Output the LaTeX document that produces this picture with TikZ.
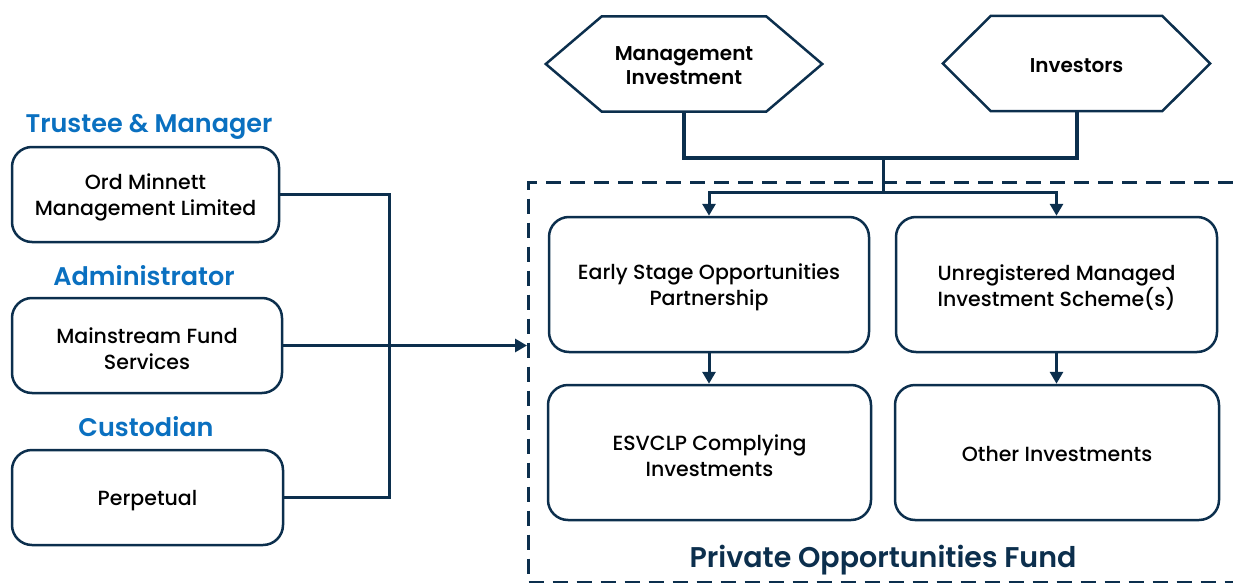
\documentclass[tikz,border=0pt]{standalone}
\usepackage{fontspec}
\setmainfont{Poppins}
\newfontfamily\bodyface{Poppins Medium}
\newfontfamily\headface{Poppins SemiBold}
\usetikzlibrary{arrows.meta,calc}
\definecolor{navy}{HTML}{0C2F4D}
\definecolor{rolecol}{HTML}{0A70C0}
% tall strut on the first line of a box label
\newcommand\firstline{\rule{0pt}{22pt}}
\begin{document}
\begin{tikzpicture}[x=1pt,y=-1pt,
  box/.style={draw=navy, line width=2.5pt, rounded corners=20pt, align=center,
    inner sep=0pt, font=\bodyface\fontsize{20.5}{26}\selectfont},
  rolelabel/.style={text=rolecol, anchor=base, font=\headface\fontsize{25.5}{28}\selectfont},
  hexarea/.style={inner sep=0pt, align=center, font=\headface\fontsize{20}{24}\selectfont},
  hexline/.style={draw=navy, line width=2.5pt, line join=miter},
  feed/.style={draw=navy, line width=4pt},
  flow/.style={draw=navy, line width=3pt, -{Triangle[width=13pt,length=12pt]}},
  link/.style={draw=navy, line width=3pt},
  fundbox/.style={draw=navy, line width=3pt, dash pattern=on 15pt off 9pt},
]
\useasboundingbox (0,0) rectangle (1233,583);

% fund boundary
\node[fundbox, anchor=north west, minimum width=740pt, minimum height=400pt, inner sep=0pt] (fund) at (527,181) {};
\node[text=navy, font=\headface\fontsize{28.5}{30}\selectfont] (fundname) at (883,560) {Private Opportunities Fund};

% investors at the top
\node[hexarea, minimum width=276pt, minimum height=95pt] (mgmt) at (684,64) {\rule{0pt}{17pt}Management\\Investment};
\node[hexarea, minimum width=267pt, minimum height=95pt] (inv) at (1076.5,63.5) {\rule{0pt}{18pt}Investors};
\foreach \h/\d in {mgmt/56, inv/48}{
  \draw[hexline] (\h.west) -- ($(\h.north west)+(\d,0)$) -- ($(\h.north east)+(-\d,0)$)
    -- (\h.east) -- ($(\h.south east)+(-\d,0)$) -- ($(\h.south west)+(\d,0)$) -- cycle;
}

% vehicles inside the fund
\node[box, minimum width=320pt, minimum height=135pt] (esop) at (709,284.5) {\firstline Early Stage Opportunities\\Partnership};
\node[box, minimum width=321pt, minimum height=135pt] (umis) at (1056.5,284.5) {\firstline Unregistered Managed\\Investment Scheme(s)};
\node[box, minimum width=323pt, minimum height=135pt] (esvclp) at (709.5,452.5) {\firstline ESVCLP Complying\\Investments};
\node[box, minimum width=324pt, minimum height=135pt] (other) at (1057,452.5) {\rule{0pt}{18pt}Other Investments};

% service providers
\node[rolelabel] (rtm) at (149,132) {Trustee \& Manager};
\node[box, minimum width=267pt, minimum height=95pt] (ord) at (145.5,194.5) {\firstline Ord Minnett\\Management Limited};
\node[rolelabel] (radm) at (144,285) {Administrator};
\node[box, minimum width=270pt, minimum height=95pt] (mfs) at (147,345.5) {\firstline Mainstream Fund\\Services};
\node[rolelabel] (rcus) at (146,436.5) {Custodian};
\node[box, minimum width=271pt, minimum height=95pt] (perp) at (147.5,497.5) {\rule{0pt}{21pt}Perpetual};

% connectors from the investors
\coordinate (join) at (883,158);
\coordinate (split) at (883,192);
\draw[feed] (mgmt.south) |- (join) -| (inv.south);
\draw[link] (join) -- (split);
\draw[flow] (split) -| (esop.north);
\draw[flow] (split) -| (umis.north);
\draw[flow] (esop.south) -- (esvclp.north -| esop.south);
\draw[flow] (umis.south) -- (other.north -| umis.south);

% connectors from the service providers
\coordinate (bustop) at (389,194.5);
\coordinate (busbot) at (389,497.5);
\draw[link] (ord.east) -- (bustop) -- (busbot) -- (perp.east);
\draw[flow] (mfs.east) -- (fund.west |- mfs.east);
\end{tikzpicture}
\end{document}
